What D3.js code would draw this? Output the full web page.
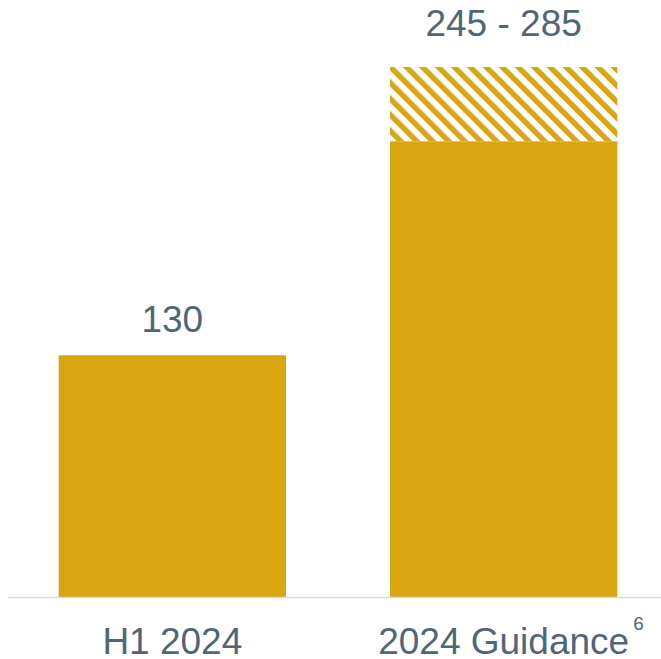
<!DOCTYPE html>
<html>
<head>
<meta charset="utf-8">
<script src="https://d3js.org/d3.v7.min.js"></script>
<style>
    body { margin: 0; background: #fff; }
    text { font-family: "Liberation Sans", Arial, sans-serif; fill: #4f6678; }
</style>
</head>
<body>
<div id="chart"></div>
<script>
    // data
    var categories = ["H1 2024", "2024 Guidance"];
    var lowValues = [130, 245];      // solid part
    var highValues = [130, 285];     // top of the range (hatched part)
    var valueLabels = ["130", "245 - 285"];
    var footnotes = ["", "6"];

    var width = 661, height = 659;
    var baseY = 597;

    var svg = d3.select("#chart").append("svg")
        .attr("width", width)
        .attr("height", height);

    // diagonal hatch for the guidance range
    var defs = svg.append("defs");
    var pat = defs.append("pattern")
        .attr("id", "hatch")
        .attr("patternUnits", "userSpaceOnUse")
        .attr("width", 11.3)
        .attr("height", 10)
        .attr("patternTransform", "rotate(-45)");
    pat.append("rect")
        .attr("x", 0).attr("y", 0)
        .attr("width", 5.4).attr("height", 10)
        .attr("fill", "#d9a511");

    var x = d3.scaleBand()
        .domain(categories)
        .range([9, 667])
        .paddingInner(0.314)
        .paddingOuter(0.15);

    var y = d3.scaleLinear()
        .domain([0, 285])
        .range([baseY, 67]);

    var rows = categories.map(function (c, i) {
        return { cat: c, low: lowValues[i], high: highValues[i], label: valueLabels[i], note: footnotes[i] };
    });

    // hatched range part
    svg.selectAll("rect.range")
        .data(rows.filter(function (d) { return d.high > d.low; }))
        .enter().append("rect")
        .attr("class", "range")
        .attr("x", function (d) { return x(d.cat); })
        .attr("width", x.bandwidth())
        .attr("y", function (d) { return y(d.high); })
        .attr("height", function (d) { return y(d.low) - y(d.high); })
        .attr("fill", "url(#hatch)");

    // solid bars
    svg.selectAll("rect.bar")
        .data(rows)
        .enter().append("rect")
        .attr("class", "bar")
        .attr("x", function (d) { return x(d.cat); })
        .attr("width", x.bandwidth())
        .attr("y", function (d) { return y(d.low); })
        .attr("height", function (d) { return y(0) - y(d.low); })
        .attr("fill", "#d9a511");

    // baseline
    svg.append("line")
        .attr("x1", 8).attr("x2", width)
        .attr("y1", baseY + 0.5).attr("y2", baseY + 0.5)
        .attr("stroke", "#d9d9d9")
        .attr("stroke-width", 1.5);

    // value labels
    svg.selectAll("text.val")
        .data(rows)
        .enter().append("text")
        .attr("class", "val")
        .attr("x", function (d) { return x(d.cat) + x.bandwidth() / 2; })
        .attr("y", function (d) { return y(d.high) - (d.high > d.low ? 31 : 23); })
        .attr("text-anchor", "middle")
        .style("font-size", "37px")
        .text(function (d) { return d.label; });

    // category labels
    var cats = svg.selectAll("g.cat")
        .data(rows)
        .enter().append("g")
        .attr("class", "cat");

    cats.append("text")
        .attr("class", "catlabel")
        .attr("x", function (d) { return x(d.cat) + x.bandwidth() / 2; })
        .attr("y", 654)
        .attr("text-anchor", "middle")
        .style("font-size", "37px")
        .text(function (d) { return d.cat; });

    // footnote superscript after the label
    cats.filter(function (d) { return d.note; })
        .each(function (d) {
            var g = d3.select(this);
            var bb = g.select("text.catlabel").node().getBBox();
            g.append("text")
                .attr("x", bb.x + bb.width + 4)
                .attr("y", 630)
                .style("font-size", "19px")
                .text(d.note);
        });
</script>
</body>
</html>
